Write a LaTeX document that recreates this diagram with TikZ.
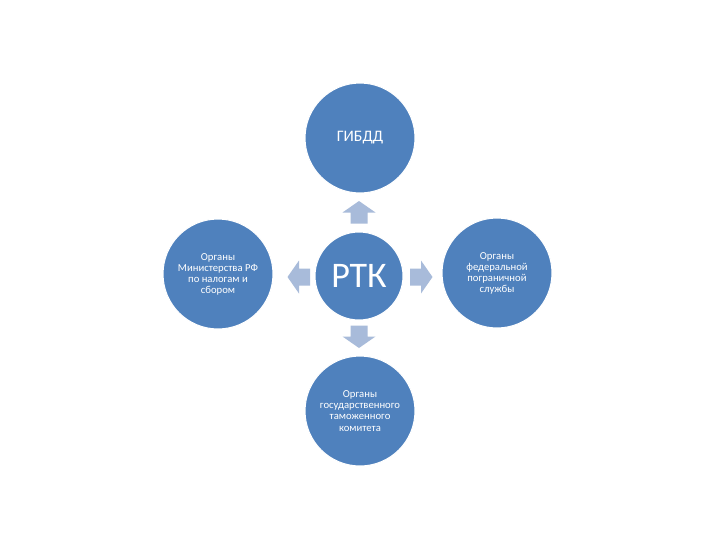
\documentclass[tikz,border=0pt]{standalone}
\usepackage{fontspec}
\setmainfont{Carlito}
\definecolor{circfill}{RGB}{79,129,189}
\definecolor{arrcol}{RGB}{168,187,218}
\newcommand\blockarrow[2]{%
  \begin{scope}[shift={#1},rotate=#2]
    \fill[arrcol] (-11,8.5) -- (0,8.5) -- (0,16.5) -- (11.5,0) -- (0,-16.5) -- (0,-8.5) -- (-11,-8.5) -- cycle;
  \end{scope}}
\begin{document}
\begin{tikzpicture}[x=0.75pt,y=-0.75pt,
  bigcirc/.style={circle,fill=circfill,draw=white,line width=0.8pt,minimum size=82.5pt,inner sep=0pt,text=white,align=center,font=\fontsize{8}{8.3}\selectfont},
  midcirc/.style={bigcirc,minimum size=66pt,font=\fontsize{27}{30}\selectfont}]
\useasboundingbox (0,0) rectangle (720,540);
\fill[white] (0,0) rectangle (720,540);
\node[bigcirc,font=\fontsize{12}{14}\selectfont] (top) at (360,138) {ГИБДД};
\node[midcirc] (mid) at (359,276) {РТК};
\node[bigcirc] (left) at (218,274) {Органы\\Министерства РФ\\по налогам и\\сбором};
\node[bigcirc] (right) at (497,273) {Органы\\федеральной\\пограничной\\службы};
\node[bigcirc] (bot) at (360,411) {Органы\\государственного\\таможенного\\комитета};
\blockarrow{(359,212.5)}{90}
\blockarrow{(299,277)}{180}
\blockarrow{(421,277)}{0}
\blockarrow{(359,336.5)}{-90}
\end{tikzpicture}
\end{document}
